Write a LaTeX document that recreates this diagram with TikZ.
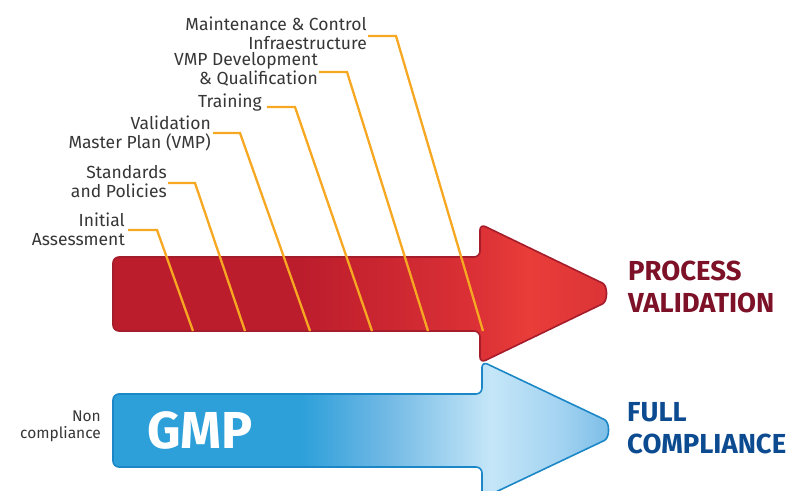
\documentclass[tikz,border=0pt]{standalone}
\usepackage{fontspec}
\setmainfont{Fira Sans}
\definecolor{lead}{HTML}{F7A823}
\definecolor{txt}{HTML}{363636}
\definecolor{pvred}{HTML}{7D1128}
\definecolor{fcblue}{HTML}{0D4B91}
\definecolor{redA}{HTML}{BC1D2C}
\definecolor{redB}{HTML}{DC3136}
\definecolor{redC}{HTML}{E93D39}
\definecolor{redD}{HTML}{DB3337}
\definecolor{redline}{HTML}{A51C2B}
\definecolor{blueA}{HTML}{2DA0DA}
\definecolor{blueB}{HTML}{6DB7E4}
\definecolor{blueC}{HTML}{C5E6F8}
\definecolor{blueD}{HTML}{A3D3F1}
\definecolor{blueE}{HTML}{7CBDE7}
\definecolor{blueline}{HTML}{1C87C7}
% horizontal fills of the two arrows (path box spans 25bp..75bp)
\pgfdeclarehorizontalshading{redshade}{100bp}{color(0bp)=(redA); color(44bp)=(redA); color(62bp)=(redB); color(67bp)=(redC); color(75bp)=(redD); color(100bp)=(redD)}
\pgfdeclarehorizontalshading{blueshade}{100bp}{color(0bp)=(blueA); color(44bp)=(blueA); color(52bp)=(blueB); color(63bp)=(blueC); color(70bp)=(blueD); color(75bp)=(blueE); color(100bp)=(blueE)}
\begin{document}
\begin{tikzpicture}[x=1pt,y=-1pt,
  leader/.style={draw=lead,line width=2.3pt,line join=miter},
  stagelabel/.style={anchor=east,align=right,inner sep=0pt,text=txt,font=\fontsize{17.5}{19}\selectfont},
  goal/.style={anchor=west,align=left,inner sep=0pt,font=\fontsize{27.5}{32}\selectfont\bfseries},
  arrowbody/.style={line width=1.6pt,line join=round}]
\useasboundingbox (0,0) rectangle (789,490);

% red arrow: process validation (rounded tip drawn as a cubic arc)
\path[arrowbody,draw=redline,shading=redshade,rounded corners=6]
  (113,294) -- (113,257) -- (480,257) -- (480,224) -- (597.1,280.5)
  .. controls (607.9,285.7) and (607.9,301.3) .. (597.1,306.5)
  -- (480,363) -- (480,331) -- (113,331) -- cycle;

% blue arrow: GMP
\path[arrowbody,draw=blueline,shading=blueshade,rounded corners=6]
  (113,430) -- (113,394) -- (482,394) -- (482,361.5) -- (599.1,417)
  .. controls (609.9,422.2) and (609.9,437.8) .. (599.1,443)
  -- (482,498.5) -- (482,467) -- (113,467) -- cycle;

\node[anchor=west,inner sep=0pt,text=white,font=\fontsize{52}{52}\selectfont\bfseries] (gmp) at (147,430) {GMP};

% stage labels with their leaders
\coordinate (s1) at (128,230); \coordinate (k1) at (157,230); \coordinate (e1) at (193,331);
\coordinate (s2) at (168,183); \coordinate (k2) at (195,183); \coordinate (e2) at (245,331);
\coordinate (s3) at (213,133); \coordinate (k3) at (240,133); \coordinate (e3) at (310,331);
\coordinate (s4) at (267,107); \coordinate (k4) at (295,107); \coordinate (e4) at (372,331);
\coordinate (s5) at (319,72);  \coordinate (k5) at (347,72);  \coordinate (e5) at (428,331);
\coordinate (s6) at (368,36);  \coordinate (k6) at (396,36);  \coordinate (e6) at (483,331);

\node[stagelabel] (l1) at (125,229) {Initial\\Assessment};
\node[stagelabel] (l2) at (167,182) {Standards\\and Policies};
\node[stagelabel] (l3) at (211,133) {Validation\\Master Plan (VMP)};
\node[stagelabel,anchor=base east] (l4) at (262,107) {Training};
\node[stagelabel] (l5) at (318,69) {VMP Development\\\& Qualification};
\node[stagelabel] (l6) at (367,33) {Maintenance \& Control\\Infraestructure};

\foreach \i in {1,...,6} { \draw[leader] (s\i) -- (k\i) -- (e\i); }

\node[stagelabel,font=\fontsize{15.5}{17}\selectfont] (nc) at (101,426) {Non\\compliance};

\node[goal,text=pvred] (pv) at (628,287) {PROCESS\\VALIDATION};
\node[goal,text=fcblue] (fc) at (627,428) {FULL\\COMPLIANCE};
\end{tikzpicture}
\end{document}
